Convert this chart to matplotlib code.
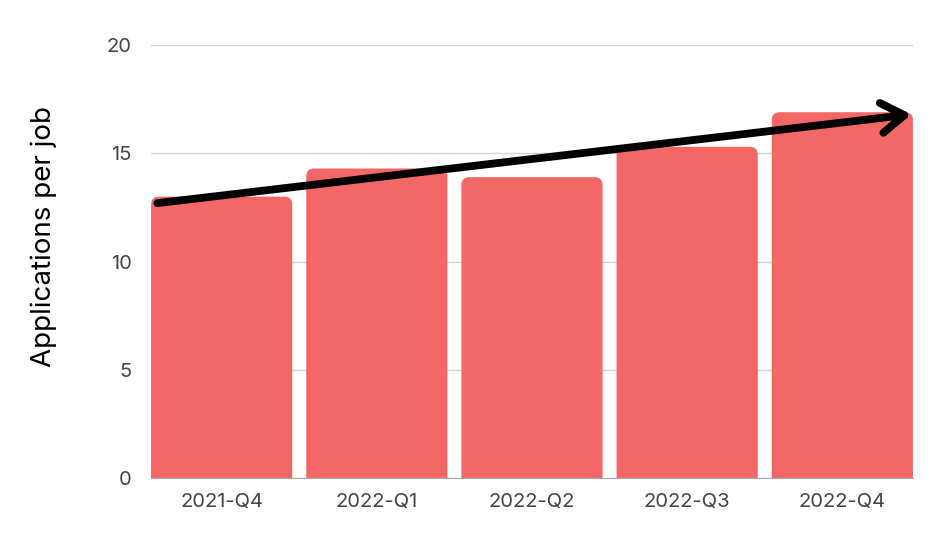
import matplotlib.pyplot as plt
from matplotlib.path import Path
from matplotlib.patches import PathPatch

plt.rcParams['font.family'] = ['Inter', 'DejaVu Sans']

# datos
quarters = ["2021-Q4", "2022-Q1", "2022-Q2", "2022-Q3", "2022-Q4"]
apps_per_job = [13.0, 14.3, 13.9, 15.3, 16.9]
trend_start = 12.7
trend_end = 16.8

bar_color = "#F46767"
bar_w = 0.91

fig = plt.figure(figsize=(9.5, 5.48), dpi=100)
ax = fig.add_axes([0.159, 0.1277, 0.802, 0.79])

bars = ax.bar(range(len(quarters)), apps_per_job, width=bar_w, color=bar_color, zorder=2)

ax.set_xlim(-bar_w / 2, len(quarters) - 1 + bar_w / 2)
ax.set_ylim(0, 20)

# esquinas superiores redondeadas
fig.canvas.draw()
px_x = (ax.get_xlim()[1] - ax.get_xlim()[0]) / ax.bbox.width
px_y = (ax.get_ylim()[1] - ax.get_ylim()[0]) / ax.bbox.height
rx, ry = 8 * px_x, 8 * px_y
for b in bars:
    x0, y0 = b.get_x(), b.get_y()
    x1, y1 = x0 + b.get_width(), y0 + b.get_height()
    verts = [(x0, y0), (x0, y1 - ry), (x0, y1), (x0 + rx, y1),
             (x1 - rx, y1), (x1, y1), (x1, y1 - ry), (x1, y0), (x0, y0)]
    codes = [Path.MOVETO, Path.LINETO, Path.CURVE3, Path.CURVE3,
             Path.LINETO, Path.CURVE3, Path.CURVE3, Path.LINETO, Path.CLOSEPOLY]
    ax.add_patch(PathPatch(Path(verts, codes), facecolor=bar_color, edgecolor="none", zorder=2))
    b.remove()

# flecha de tendencia
ax.annotate("", xy=(len(quarters) - 1 + bar_w / 2 - 0.01, trend_end),
            xytext=(-bar_w / 2 + 0.04, trend_start),
            arrowprops=dict(arrowstyle="->,head_length=0.55,head_width=0.36", lw=5.6,
                            color="black", mutation_scale=30,
                            shrinkA=0, shrinkB=0, capstyle="round", joinstyle="round"),
            zorder=5, annotation_clip=False)

ax.set_yticks([0, 5, 10, 15, 20])
ax.set_xticks(range(len(quarters)))
ax.set_xticklabels(quarters)
ax.tick_params(axis="both", length=0, labelsize=14.5, colors="#444444")
ax.tick_params(axis="y", pad=14)
ax.tick_params(axis="x", pad=11)
ax.yaxis.grid(True, color="#d4d4d4", lw=1, zorder=0)
ax.set_axisbelow(True)
for s in ["top", "right", "left"]:
    ax.spines[s].set_visible(False)
ax.spines["bottom"].set_color("#aaaaaa")
ax.spines["bottom"].set_zorder(3)

ax.set_ylabel("Applications per job", fontsize=20, color="black")
ax.yaxis.set_label_coords(-0.124, 0.559)

fig.savefig("out.png", dpi=100)
